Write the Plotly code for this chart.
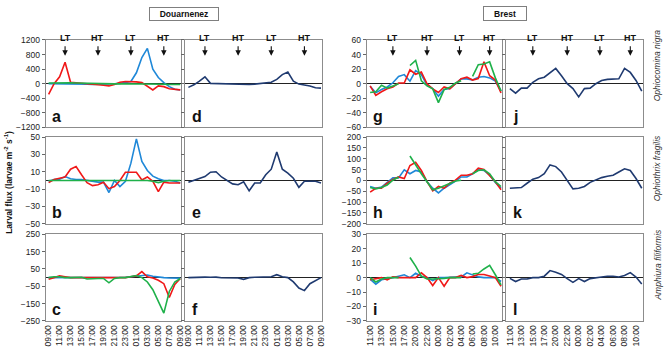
import plotly.graph_objects as go

# ---------------- data ----------------
douarnenez_times = ["09:00", "10:00", "11:00", "12:00", "13:00", "14:00", "15:00", "16:00",
                    "17:00", "18:00", "19:00", "20:00", "21:00", "22:00", "23:00", "00:00",
                    "01:00", "02:00", "03:00", "04:00", "05:00", "06:00", "07:00", "08:00", "09:00"]
brest_times = ["11:00", "12:00", "13:00", "14:00", "15:00", "16:00", "17:00", "19:00",
               "20:00", "21:00", "22:00", "23:00", "00:00", "01:00", "02:00", "03:00",
               "04:00", "05:00", "06:00", "07:00", "08:00", "09:00", "10:00", "11:00"]

# Douarnenez - Ophiocomina nigra
a_blue = [0, 0, 5, 10, 5, 0, -5, -10, -20, -20, -20, -10, 0, 10, 30, 60, 300, 720, 970, 400, 170, 30, -80, -150, -170]
a_red = [-290, 0, 190, 590, 40, 30, 20, 10, -20, -30, -40, -60, -20, 40, 60, 60, 50, 30, -80, -170, -60, -80, -140, -160, -170]
a_green = [20, 25, 25, 25, 25, 20, 15, 10, 0, -10, -10, -10, -5, 0, 0, 5, 5, 0, -5, -10, -15, -15, -20, -20, -20]
d_total = [-100, -30, 70, 190, 10, 5, 0, -5, -10, -20, -20, -20, -10, 0, 10, 40, 120, 250, 320, 70, -10, -30, -60, -110, -120]
# Douarnenez - Ophiothrix fragilis
b_blue = [-1, 1, 1.5, 4.5, 2, 1, 1, 0, -1, -2, -2, -14, 0, -7, -1, 20, 48, 22, 11.5, 5, 2, 0, 0, -1, -3]
b_red = [-2.5, 1, 2.5, 4, 13, 16, 6.5, -2.5, -6, -5, -2, -9.5, -7, 0, 9.5, 9.5, 9.5, 0.5, 4, -1, -13, -2, -3, -3, -3]
b_green = [0, 0, 0.5, 0.5, 0.5, 0.5, 0.5, 0.5, 0.5, 0, 0, 0, 0, 0, 0, 0.5, 0.5, 0.5, 0, -1, -2.5, -1, 0, 0, 0]
e_total = [-2, 0, 2, 4.5, 9.5, 10, 4, 0, -4, -5, -1.5, -12, -3, -3, 6.5, 13, 33, 13, 8.5, 2.5, -8, -1, -1, -1, -3]
# Douarnenez - Amphiura filiformis
c_blue = [0, 0, 0, 0, 0, 0, 0, 0, 0, 0, 0, 0, 0, 0, 2, 5, 8, 12, 15, 8, 3, 0, -2, -3, -3]
c_red = [-10, 0, 10, 5, 0, 0, 0, 0, 0, 0, 0, 0, 0, 0, 0, 5, 10, 35, 5, -2, -15, -35, -115, -40, -5]
c_green = [0, 5, 5, 0, 0, 0, 2, -8, -5, -5, -5, -30, -5, 0, 0, 8, 12, 0, -25, -70, -140, -205, -80, -25, -5]
f_total = [0, 2, 5, 3, 2, 3, -1, -2, -3, -2, -10, 0, 2, 3, 5, 5, 17, 5, 0, -25, -60, -75, -35, -15, 0]

# Brest - Ophiocomina nigra
g_blue = [-3.5, -12.5, -8, -4.5, 1.3, 10, 12.5, 3.5, 18, 12.5, -2, -6.7, -17, -8, -6.7, 0, 6.7, 6.7, 5.3, 9, 10, 8, 3.5, -10]
g_red = [-3, -16, -11, -7, -4.5, 1, 1, 19, 13, 16, 0, -7, -12, -4.5, -7, 0, 7, 9, 5, 7, 30, 11, 5, -12.5]
g_green = [-12, -11, -2, -6, -3, 0, None, 25, 32, 4, -3, -7, -26, -8, -5, 1, 4, None, 10, 26, 27, 30, 8, -10]
j_total = [-6.7, -13, -6, -6, 2, 6.7, 9, 15.5, 21, 11, 0, -6.7, -18, -6.7, -6, 0, 4.5, 6, 6, 6.7, 21, 15.5, 4.5, -10]
# Brest - Ophiothrix fragilis
h_blue = [-28, -36, -31, -10, 12, 12, 49, 31, 46, 39, -6, -36, -58, -36, -21, -3, 16, 16, 31, 49, 46, 24, -10, -36]
h_red = [-54, -36, -36, -13, 4, 16, 9, 69, 84, 46, -6, -48, -28, -36, -13, 1, 24, 24, 31, 57, 51, 24, -6, -43]
h_green = [-33, -39, -33, -21, 1, 16, None, 113, 69, 31, -6, -43, -36, -25, -13, -3, 1, None, 31, 46, 49, 31, -6, -28]
k_total = [-36, -36, -33, -13, 6, 13, 31, 72, 64, 39, 1, -39, -36, -28, -9, 1, 13, 19, 24, 39, 54, 46, 9, -36]
# Brest - Amphiura filiformis
i_blue = [-1, -4.5, -1.5, -1, 0, 1, 2, 0, 3, 1, 0, -2, 0, 0, 0, 0, 0.5, 3.3, 1.7, 0.5, 0, 0, 0, -2.7]
i_red = [-1.5, -0.5, 0, -1.5, 0.5, 0, 0, 0, 0, 3.3, 0, -5.5, 0, -6, 0, 0, 1.5, 0, 0.7, 2.2, 2.2, 1.1, 0, -6]
i_green = [0, -3, -1, 0, 0, 0, None, 14, 8, 1, -1, -1, -1, -0.5, 0, 0, 0, None, 2.5, 3, 6, 8.5, 2, -5]
l_total = [-0.5, -2.7, -1, -1, 0, 0, 1, 4.9, 3.8, 2.2, -0.7, -3.3, -0.7, -2.7, -0.7, -0.4, 0.4, 1, 1, 0.4, 1.5, 3.5, 0.4, -4.4]

# tide times (index positions along the sampling series)
tide_labels = ["LT", "HT", "LT", "HT"]
tide_idx_douarnenez = [3, 9, 15, 21]
tide_idx_brest = [4, 10, 15.7, 21]

yticks_douarnenez = [[-1200, -800, -400, 0, 400, 800, 1200],
                     [-50, -30, -10, 10, 30, 50],
                     [-250, -150, -50, 50, 150, 250]]
yticks_brest = [[-60, -40, -20, 0, 20, 40, 60],
                [-200, -150, -100, -50, 0, 50, 100, 150, 200],
                [-30, -20, -10, 0, 10, 20, 30]]
species = ["Ophiocomina nigra", "Ophiothrix fragilis", "Amphiura filiformis"]

# ---------------- style ----------------
BLUE, RED, GREEN, NAVY = "#1f88d8", "#f01818", "#1fb14a", "#1f3a70"
FONT = "Liberation Sans"
W, H = 668, 356


def fx(px):
    return px / W


def fy(py):
    return 1 - py / H


rows_px = [(36, 126), (136, 225), (236, 325)]
cols_px = [(44, 181), (185, 323), (368, 505), (509, 647)]

panels = [
    ("a", 0, 0, [(a_blue, BLUE), (a_red, RED), (a_green, GREEN)], yticks_douarnenez[0], "D"),
    ("d", 1, 0, [(d_total, NAVY)], yticks_douarnenez[0], "D"),
    ("b", 0, 1, [(b_blue, BLUE), (b_red, RED), (b_green, GREEN)], yticks_douarnenez[1], "D"),
    ("e", 1, 1, [(e_total, NAVY)], yticks_douarnenez[1], "D"),
    ("c", 0, 2, [(c_blue, BLUE), (c_red, RED), (c_green, GREEN)], yticks_douarnenez[2], "D"),
    ("f", 1, 2, [(f_total, NAVY)], yticks_douarnenez[2], "D"),
    ("g", 2, 0, [(g_blue, BLUE), (g_red, RED), (g_green, GREEN)], yticks_brest[0], "B"),
    ("j", 3, 0, [(j_total, NAVY)], yticks_brest[0], "B"),
    ("h", 2, 1, [(h_blue, BLUE), (h_red, RED), (h_green, GREEN)], yticks_brest[1], "B"),
    ("k", 3, 1, [(k_total, NAVY)], yticks_brest[1], "B"),
    ("i", 2, 2, [(i_blue, BLUE), (i_red, RED), (i_green, GREEN)], yticks_brest[2], "B"),
    ("l", 3, 2, [(l_total, NAVY)], yticks_brest[2], "B"),
]

fig = go.Figure()
layout = dict(width=W, height=H, margin=dict(l=0, r=0, t=0, b=0),
              paper_bgcolor="white", plot_bgcolor="white", showlegend=False,
              font=dict(family=FONT, size=9, color="#222"))
annotations = []

for k, (letter, col, row, series, yt, grp) in enumerate(panels, start=1):
    sfx = "" if k == 1 else str(k)
    xa, ya = "x" + sfx, "y" + sfx
    times = douarnenez_times if grp == "D" else brest_times
    n = len(times)
    xs = list(range(n))
    for vals, colr in series:
        fig.add_trace(go.Scatter(x=xs, y=vals, mode="lines", xaxis=xa, yaxis=ya,
                                 line=dict(color=colr, width=1.6), connectgaps=False,
                                 hoverinfo="skip", showlegend=False))
    x0, x1 = cols_px[col]
    y0, y1 = rows_px[row]
    if grp == "D":
        xr = [-0.55, 24.2]
    else:
        xr = [-0.6, 23.25]
    tickvals = list(range(0, n, 2))
    layout["xaxis" + sfx] = dict(
        domain=[fx(x0), fx(x1)], anchor=ya, range=xr, showgrid=False, zeroline=False,
        showline=True, mirror=True, linecolor="#8c8c8c", linewidth=1,
        tickvals=tickvals, ticktext=[times[t] for t in tickvals],
        showticklabels=(row == 2), tickangle=-90, ticks="",
        tickfont=dict(family=FONT, size=8.5, color="#222"))
    layout["yaxis" + sfx] = dict(
        domain=[fy(y1), fy(y0)], anchor=xa, range=[yt[0], yt[-1]], showgrid=False,
        zeroline=True, zerolinecolor="#222", zerolinewidth=1,
        showline=True, mirror=True, linecolor="#8c8c8c", linewidth=1,
        tickvals=yt, ticks="outside", ticklen=3, tickcolor="#666",
        showticklabels=(col in (0, 2)),
        tickfont=dict(family=FONT, size=8.5, color="#222"))
    # panel letter
    annotations.append(dict(text="<b>%s</b>" % letter, xref=xa + " domain", yref=ya + " domain",
                            x=0.035, y=0.01, xanchor="left", yanchor="bottom", showarrow=False,
                            font=dict(family=FONT, size=16, color="#111")))
    # tide arrows on top row
    if row == 0:
        idxs = tide_idx_douarnenez if grp == "D" else tide_idx_brest
        for lab, xi in zip(tide_labels, idxs):
            annotations.append(dict(text="<b>%s</b>" % lab, xref=xa, yref=ya + " domain",
                                    x=xi, y=0.82, ax=0, ay=-18, showarrow=True,
                                    arrowhead=2, arrowsize=1, arrowwidth=1.1, arrowcolor="#111",
                                    startstandoff=2, font=dict(family=FONT, size=9, color="#111")))

# group titles
annotations.append(dict(text="<b>Douarnenez</b>", xref="paper", yref="paper",
                        x=fx((44 + 323) / 2), y=fy(9), xanchor="center", yanchor="middle",
                        showarrow=False, bordercolor="#7f7f7f", borderwidth=1, borderpad=1,
                        width=66, height=10, font=dict(family=FONT, size=8.5, color="#111")))
annotations.append(dict(text="<b>Brest</b>", xref="paper", yref="paper",
                        x=fx((368 + 647) / 2), y=fy(8.5), xanchor="center", yanchor="middle",
                        showarrow=False, bordercolor="#7f7f7f", borderwidth=1, borderpad=1,
                        width=40, height=11, font=dict(family=FONT, size=8.5, color="#111")))
# y-axis title
annotations.append(dict(text="<b>Larval flux (larvae m<sup>-2</sup> s<sup>-1</sup>)</b>",
                        xref="paper", yref="paper", x=fx(7), y=fy(182), textangle=-90,
                        xanchor="center", yanchor="middle", showarrow=False,
                        font=dict(family=FONT, size=8.5, color="#111")))
# species labels
for sp, cy in zip(species, [62, 168, 267]):
    annotations.append(dict(text="<i>%s</i>" % sp, xref="paper", yref="paper",
                            x=fx(661), y=fy(cy), textangle=-90, xanchor="center", yanchor="middle",
                            showarrow=False, font=dict(family=FONT, size=8.5, color="#333")))

layout["annotations"] = annotations
fig.update_layout(**layout)
fig.write_html("out.html", config={"displayModeBar": False},
               post_script="document.body.style.margin='0';document.body.style.padding='0';")
